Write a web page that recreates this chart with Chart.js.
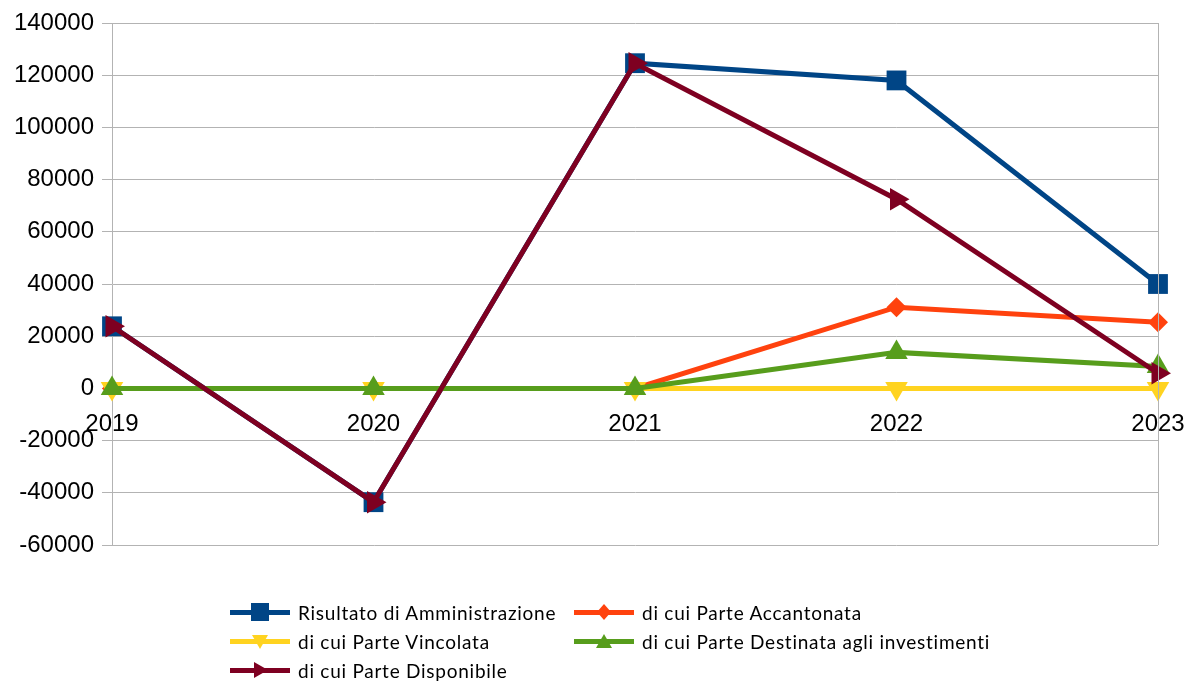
<!DOCTYPE html>
<html>
<head>
<meta charset="utf-8">
<script src="https://cdn.jsdelivr.net/npm/chart.js@4/dist/chart.umd.min.js"></script>
<style>
  body { margin: 0; background: #fff; }
  #wrap { position: relative; width: 1184px; height: 682px; }
  #legend { position: absolute; left: 0; top: 0; font-family: Lato, "Noto Sans", sans-serif; font-size: 19px; letter-spacing: 0.75px; color: #000; }
  .item { position: absolute; height: 28px; display: flex; align-items: center; white-space: nowrap; }
  .item svg { margin-right: 8px; }
</style>
</head>
<body>
<div id="wrap">
  <canvas id="chart" width="1184" height="682"></canvas>
  <div id="legend"></div>
</div>
<script>
// valori
let anni = ["2019", "2020", "2021", "2022", "2023"]
let risultato = [23800, -43600, 124600, 118000, 40000]
let accantonata = [0, 0, 0, 31100, 25300]
let vincolata = [0, 0, 0, 0, 0]
let destinata = [0, 0, 0, 13800, 8400]
let disponibile = [23800, -43600, 124600, 72500, 5800]
let yTicks = [-60000, -40000, -20000, 0, 20000, 40000, 60000, 80000, 100000, 120000, 140000]

let grigio = "#b3b3b3"

function serie(label, data, color, style, radius, rotation, order) {
    return {
        label: label,
        data: data,
        borderColor: color,
        backgroundColor: color,
        borderWidth: 5,
        pointStyle: style,
        pointRadius: radius,
        pointRotation: rotation,
        pointBackgroundColor: color,
        pointBorderWidth: 0,
        tension: 0,
        order: order
    }
}

let datasets = [
    serie("Risultato di Amministrazione", risultato, "#004586", "rect", 14, 0, 5),
    serie("di cui Parte Accantonata", accantonata, "#ff420e", "rectRot", 10, 0, 4),
    serie("di cui Parte Vincolata", vincolata, "#ffd320", "triangle", 13, 180, 3),
    serie("di cui Parte Destinata agli investimenti", destinata, "#579d1c", "triangle", 13, 0, 2),
    serie("di cui Parte Disponibile", disponibile, "#7e0021", "triangle", 13, 90, 1)
]

let bordoDestro = {
    id: "bordoDestro",
    afterDraw(c) {
        let a = c.chartArea
        let ctx = c.ctx
        ctx.save()
        ctx.strokeStyle = grigio
        ctx.lineWidth = 1
        ctx.beginPath()
        ctx.moveTo(a.right + 0.5, a.top)
        ctx.lineTo(a.right + 0.5, a.bottom)
        ctx.stroke()
        ctx.restore()
    }
}

let chart = new Chart("chart", {
    type: "line",
    data: { labels: anni, datasets: datasets },
    plugins: [bordoDestro],
    options: {
        responsive: false,
        animation: false,
        layout: { padding: { left: 0, right: 26, top: 23, bottom: 137 } },
        plugins: { legend: { display: false }, tooltip: { enabled: false } },
        scales: {
            x: {
                position: { y: 0 },
                offset: false,
                afterFit(s) { s.paddingLeft = 0; s.paddingRight = 0 },
                grid: { display: false },
                border: { display: false },
                ticks: { color: "#000", font: { family: "Liberation Sans", size: 24 }, padding: 14, maxRotation: 0 }
            },
            y: {
                min: -60000,
                max: 140000,
                afterFit(s) { s.width = 112 },
                afterBuildTicks(s) { s.ticks = yTicks.map(v => ({ value: v })) },
                grid: { color: grigio, tickLength: 10, tickColor: grigio },
                border: { color: grigio },
                ticks: { color: "#000", font: { family: "Liberation Sans", size: 24 }, padding: 8, callback: v => String(v) }
            }
        }
    }
})

// legenda
let simboli = {
    rect: '<rect x="21" y="5" width="18" height="18"/>',
    rectRot: '<polygon points="30,6 37,14 30,22 23,14"/>',
    down: '<polygon points="22,8 38,8 30,22"/>',
    up: '<polygon points="22,21 38,21 30,7"/>',
    right: '<polygon points="24,6 24,22 38,14"/>'
}
let legendaSimboli = ["rect", "rectRot", "down", "up", "right"]
let posizioni = [[230, 598], [574, 598], [230, 627], [574, 627], [230, 656]]

let legend = document.getElementById("legend")
datasets.forEach((d, i) => {
    let el = document.createElement("div")
    el.className = "item"
    el.style.left = posizioni[i][0] + "px"
    el.style.top = posizioni[i][1] + "px"
    el.innerHTML = '<svg width="60" height="28" fill="' + d.borderColor + '">' +
        '<rect x="0" y="12" width="60" height="5"/>' + simboli[legendaSimboli[i]] + '</svg>' +
        '<span>' + d.label + '</span>'
    legend.appendChild(el)
})
</script>
</body>
</html>
